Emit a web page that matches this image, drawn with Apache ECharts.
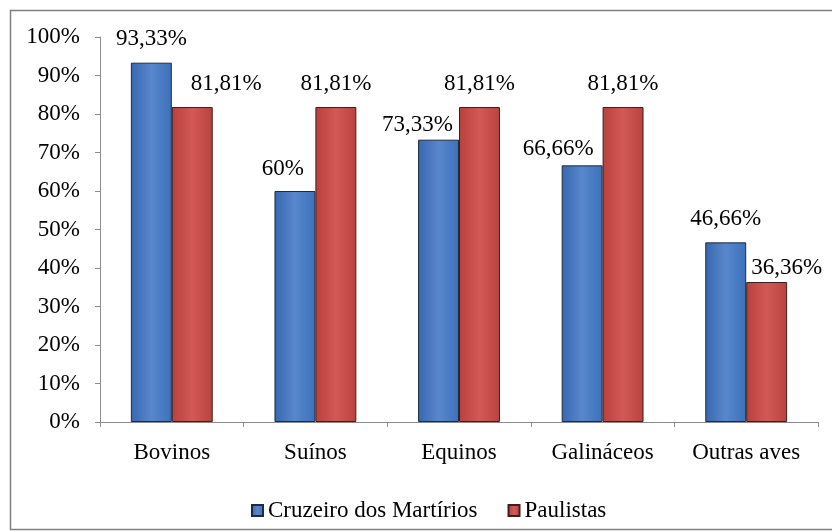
<!DOCTYPE html>
<html>
<head>
<meta charset="utf-8">
<script src="https://cdn.jsdelivr.net/npm/echarts@6/dist/echarts.min.js"></script>
<style>
  html, body { margin: 0; padding: 0; background: #fff; }
  #chartsbox { width: 832px; height: 532px; }
</style>
</head>
<body>
<div id="chartsbox"></div>
<script type="text/javascript">
    // dados do grafico
    var aCategorias = ['Bovinos', 'Suínos', 'Equinos', 'Galináceos', 'Outras aves'];
    var aCruzeiro = [93.33, 60, 73.33, 66.66, 46.66];
    var aPaulistas = [81.81, 81.81, 81.81, 81.81, 36.36];
    var aSeries = ['Cruzeiro dos Martírios', 'Paulistas'];
    var aTicks = [0, 10, 20, 30, 40, 50, 60, 70, 80, 90, 100];

    // deslocamento manual dos rotulos (como no original)
    var offCruzeiro = [[0, 0], [-12, 1], [-21, 9], [-24, 7], [0, 0]];
    var offPaulistas = [[34, 0], [0, 0], [0, 0], [0, 0], [20, 9]];

    var fonte = '"Liberation Serif", "Times New Roman", serif';

    function Gradiente(c0, c1, c2) {
        return new echarts.graphic.LinearGradient(0, 0, 1, 0, [
            { offset: 0, color: c0 },
            { offset: 0.5, color: c1 },
            { offset: 1, color: c2 }
        ]);
    }
    var corAzul = Gradiente('#3767b0', '#5887cc', '#3b71bb');
    var corVermelha = Gradiente('#b8403d', '#d25955', '#ba433f');

    function MontaDados(aValores, aOff) {
        var out = [];
        for (var i = 0; i < aValores.length; i++) {
            out.push({ value: aValores[i], label: { offset: aOff[i] } });
        }
        return out;
    }

    var rotulo = {
        show: true,
        position: 'top',
        distance: 12,
        fontFamily: fonte,
        fontSize: 23,
        color: '#000',
        formatter: function (p) { return String(p.value).replace('.', ',') + '%'; }
    };

    var myChart = echarts.init(document.getElementById('chartsbox'));
    var option = {
        backgroundColor: '#fff',
        animation: false,
        textStyle: { fontFamily: fonte },
        graphic: [{
            type: 'rect',
            shape: { x: 10.5, y: 10.5, width: 840, height: 519 },
            style: { fill: 'none', stroke: '#7f7f7f', lineWidth: 1.5 },
            silent: true
        }],
        grid: { left: 100, right: 14, top: 37, bottom: 110 },
        legend: {
            data: aSeries,
            icon: 'rect',
            left: 246,
            top: 494,
            itemWidth: 11,
            itemHeight: 11,
            itemGap: 30,
            textStyle: { fontFamily: fonte, fontSize: 23, color: '#000' }
        },
        xAxis: {
            type: 'category',
            data: aCategorias,
            axisLine: { lineStyle: { color: '#8c8c8c', width: 1 } },
            axisTick: { show: true, length: 5, lineStyle: { color: '#8c8c8c' } },
            axisLabel: { margin: 19, fontFamily: fonte, fontSize: 23, color: '#000' }
        },
        yAxis: {
            type: 'value',
            min: aTicks[0],
            max: aTicks[aTicks.length - 1],
            interval: 10,
            axisLine: { show: true, lineStyle: { color: '#8c8c8c', width: 1 } },
            axisTick: { show: true, length: 5, lineStyle: { color: '#8c8c8c' } },
            splitLine: { show: false },
            axisLabel: { margin: 20, fontFamily: fonte, fontSize: 23, color: '#000', formatter: '{value}%' }
        },
        series: [
            {
                name: aSeries[0],
                type: 'bar',
                barGap: '0%',
                barCategoryGap: '43%',
                data: MontaDados(aCruzeiro, offCruzeiro),
                itemStyle: { color: corAzul, borderColor: '#1f2a3a', borderWidth: 1 },
                label: rotulo
            },
            {
                name: aSeries[1],
                type: 'bar',
                barGap: '0%',
                barCategoryGap: '43%',
                data: MontaDados(aPaulistas, offPaulistas),
                itemStyle: { color: corVermelha, borderColor: '#3a1f1f', borderWidth: 1 },
                label: rotulo
            }
        ]
    };
    myChart.setOption(option);
</script>
</body>
</html>
